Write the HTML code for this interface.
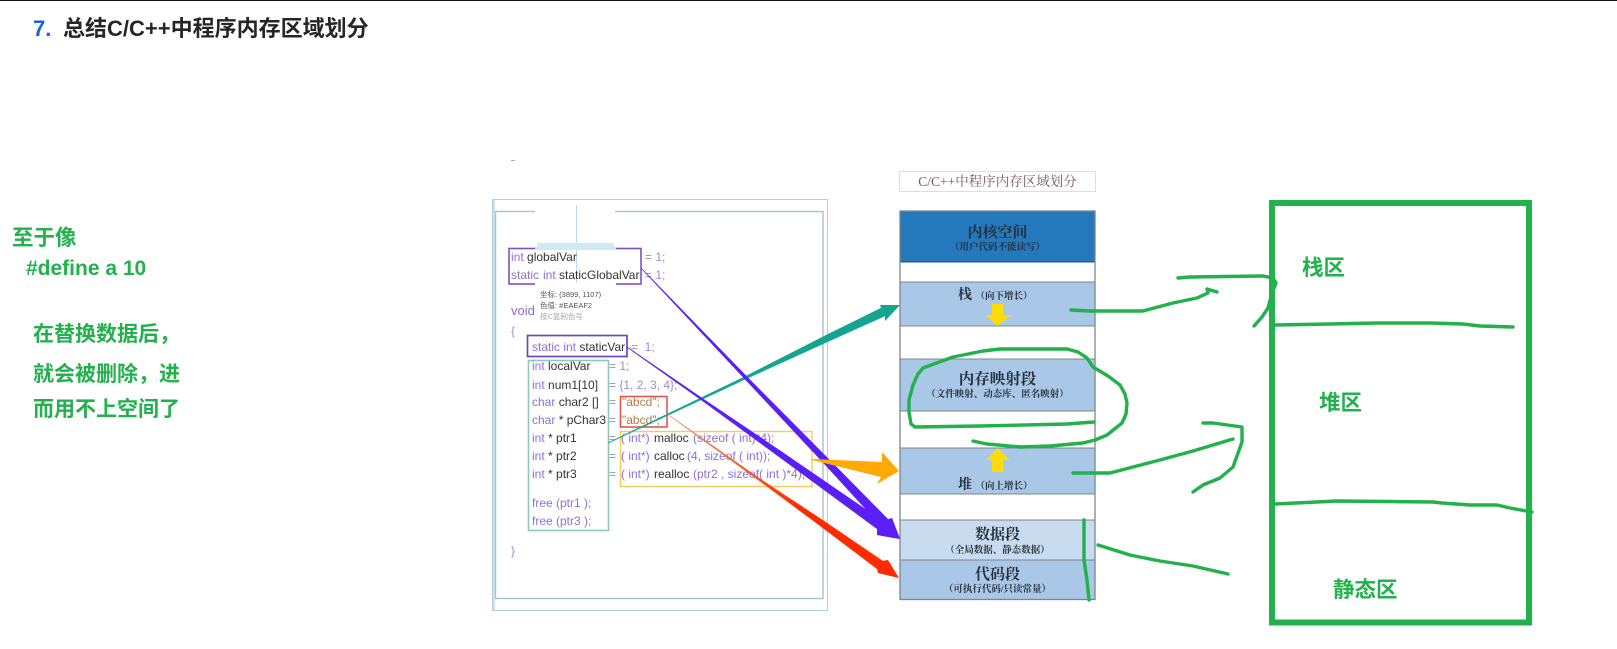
<!DOCTYPE html>
<html lang="zh">
<head>
<meta charset="utf-8">
<title>总结C/C++中程序内存区域划分</title>
<style>
html,body{margin:0;padding:0;background:#fff;width:1617px;height:649px;overflow:hidden}
svg{display:block;position:absolute;left:0;top:0}
text{white-space:pre}
.t{font-family:"Liberation Sans","Noto Sans CJK SC",sans-serif;font-weight:700}
.g{font-family:"Liberation Sans","Noto Sans CJK SC",sans-serif;font-weight:700;fill:#22b14c}
.c{font-family:"Liberation Sans","Noto Sans CJK SC",sans-serif;font-size:12px;fill:#8a70d8}
.c .d{fill:#333}
.c .m{fill:#9a8ccc}
.c .o{fill:#b5793f}
.s{font-family:"Liberation Serif","Noto Serif CJK SC",serif;font-weight:700;fill:#26303c;text-anchor:middle}
.sub{font-size:9.5px}
.scr{fill:none;stroke:#22b14c;stroke-linecap:round;stroke-linejoin:round;stroke-width:3.4}
.soft{filter:blur(.35px)}
</style>
</head>
<body>
<svg width="1617" height="649" viewBox="0 0 1617 649" xmlns="http://www.w3.org/2000/svg">
<defs>
<linearGradient id="rg" gradientUnits="userSpaceOnUse" x1="670" y1="416" x2="800" y2="508">
<stop offset="0" stop-color="#ea9a70"/><stop offset="1" stop-color="#ff2a00"/>
</linearGradient>
</defs>
<rect width="1617" height="649" fill="#fff"/>
<rect x="0" y="0" width="1617" height="1" fill="#111"/>

<!-- heading -->
<text class="t" x="33" y="36" font-size="22" fill="#1a5fe0">7.</text>
<text class="t" x="63" y="36" font-size="22" fill="#262626">总结C/C++中程序内存区域划分</text>

<!-- left note -->
<text class="g" x="12" y="245" font-size="21.5">至于像</text>
<text class="g" x="26" y="275" font-size="21">#define a 10</text>
<text class="g" x="33" y="341" font-size="21">在替换数据后，</text>
<text class="g" x="33" y="381" font-size="21">就会被删除，进</text>
<text class="g" x="33" y="416" font-size="21">而用不上空间了</text>

<g class="soft">
<!-- code frame -->
<rect x="511" y="160" width="4" height="1" fill="#aaa"/>
<rect x="492.5" y="199.5" width="335" height="411" fill="none" stroke="#b2cfdc" stroke-width="1"/>
<rect x="495.5" y="211.5" width="327.5" height="387" fill="#fff" stroke="#a4c2d0" stroke-width="1.4"/>
<rect x="493" y="200" width="2" height="410" fill="#cfe0e8"/>
<rect x="535" y="210" width="80" height="3" fill="#fff"/>
<rect x="576" y="205" width="1" height="78" fill="#b9dcec"/>
<rect x="537" y="243" width="77" height="4" fill="#cfe9f3"/>

<!-- code boxes -->
<rect x="509" y="248.5" width="132" height="35.5" fill="none" stroke="#7a52cf" stroke-width="1.6"/>
<rect x="535" y="247" width="81" height="3" fill="#cfe9f3"/>
<rect x="535" y="283" width="81" height="2" fill="#fff"/>
<rect x="527.5" y="335.5" width="99.5" height="21" fill="none" stroke="#6c45c8" stroke-width="1.7"/>
<rect x="528.5" y="360.5" width="80" height="170" fill="none" stroke="#8cc9b9" stroke-width="1.6"/>
<rect x="620.5" y="396.5" width="46.5" height="30.5" fill="none" stroke="#e4554a" stroke-width="1.6"/>
<rect x="620.5" y="431.5" width="191.5" height="55" fill="none" stroke="#fcc85c" stroke-width="1.4"/>

<!-- code -->
<text class="c" x="511" y="261">int <tspan class="d">globalVar</tspan><tspan class="m" x="645">= 1;</tspan></text>
<text class="c" x="511" y="279">static<tspan x="543">int</tspan><tspan class="d" x="559">staticGlobalVar</tspan><tspan class="m" x="645">= 1;</tspan></text>
<text x="540" y="297" font-size="7.5" fill="#555" font-family="'Liberation Sans','Noto Sans CJK SC',sans-serif">坐标: (3899, 1107)</text>
<text x="540" y="308" font-size="7.5" fill="#555" font-family="'Liberation Sans','Noto Sans CJK SC',sans-serif">色值: #EAEAF2</text>
<text x="540" y="319" font-size="7.5" fill="#aaa" font-family="'Liberation Sans','Noto Sans CJK SC',sans-serif">按C复制色号</text>
<text class="c" x="511" y="315" style="font-size:13px">void</text>
<text class="c" x="511" y="335"><tspan class="m">{</tspan></text>
<text class="c" x="532" y="351">static int <tspan class="d">staticVar</tspan><tspan class="m" x="631">=  1;</tspan></text>
<text class="c" x="532" y="370">int <tspan class="d">localVar</tspan><tspan class="m" x="609">= 1;</tspan></text>
<text class="c" x="532" y="389">int <tspan class="d">num1[10]</tspan><tspan class="m" x="609">= {1, 2, 3, 4};</tspan></text>
<text class="c" x="532" y="406">char <tspan class="d">char2 []</tspan><tspan class="m" x="609">=</tspan><tspan class="o" x="622">"abcd";</tspan></text>
<text class="c" x="532" y="424">char <tspan class="d">* pChar3</tspan><tspan class="m" x="609">=</tspan><tspan class="o" x="622">"abcd";</tspan></text>
<text class="c" x="532" y="442">int <tspan class="d">* ptr1</tspan><tspan class="m" x="609">=</tspan><tspan x="621">( int*)</tspan><tspan class="d" x="654">malloc</tspan><tspan x="693">(sizeof ( int)*4);</tspan></text>
<text class="c" x="532" y="460">int <tspan class="d">* ptr2</tspan><tspan class="m" x="609">=</tspan><tspan x="621">( int*)</tspan><tspan class="d" x="654">calloc</tspan><tspan x="687">(4, sizeof ( int));</tspan></text>
<text class="c" x="532" y="478">int <tspan class="d">* ptr3</tspan><tspan class="m" x="609">=</tspan><tspan x="621">( int*)</tspan><tspan class="d" x="654">realloc</tspan><tspan x="693">(ptr2 , sizeof( int )*4);</tspan></text>
<text class="c" x="532" y="507">free (ptr1 );</text>
<text class="c" x="532" y="525">free (ptr3 );</text>
<text class="c" x="511" y="555"><tspan class="m">}</tspan></text>

<!-- memory layout -->
<rect x="899.5" y="171.5" width="196" height="20" fill="#fff" stroke="#f2d5dc"/>
<text x="997.5" y="186" font-size="13.5" text-anchor="middle" fill="#7d5560" font-family="'Liberation Serif','Noto Serif CJK SC',serif">C/C++中程序内存区域划分</text>

<rect x="900" y="211" width="195" height="51" fill="#2479bd"/>
<rect x="900" y="262" width="195" height="20" fill="#fff"/>
<rect x="900" y="282" width="195" height="44" fill="#a9c7e6"/>
<rect x="900" y="326" width="195" height="33" fill="#fff"/>
<rect x="900" y="359" width="195" height="52" fill="#a9c7e6"/>
<rect x="900" y="411" width="195" height="37" fill="#fff"/>
<rect x="900" y="448" width="195" height="46" fill="#a9c7e6"/>
<rect x="900" y="494" width="195" height="26" fill="#fff"/>
<rect x="900" y="520" width="195" height="40" fill="#c9dcef"/>
<rect x="900" y="560" width="195" height="39" fill="#a9c7e6"/>
<g stroke="#7d858e" stroke-width="1">
<line x1="900" y1="262" x2="1095" y2="262" stroke="#1d4f7c"/>
<line x1="900" y1="282" x2="1095" y2="282"/>
<line x1="900" y1="326" x2="1095" y2="326"/>
<line x1="900" y1="359" x2="1095" y2="359"/>
<line x1="900" y1="411" x2="1095" y2="411"/>
<line x1="900" y1="448" x2="1095" y2="448"/>
<line x1="900" y1="494" x2="1095" y2="494"/>
<line x1="900" y1="520" x2="1095" y2="520"/>
<line x1="900" y1="560" x2="1095" y2="560"/>
</g>
<rect x="900" y="211" width="195" height="388.5" fill="none" stroke="#7d858e" stroke-width="1.3"/>

<text class="s" x="997.5" y="237" font-size="15">内核空间</text>
<text class="s sub" x="997.5" y="250">（用户代码不能读写）</text>
<text class="s" x="965" y="299" font-size="14">栈</text>
<text class="s sub" x="1004" y="299">（向下增长）</text>
<polygon points="992,304 1003,304 1003,315 1011,315 997.5,326 985,315 992,315" fill="#ffdb0a"/>
<text class="s" x="997.5" y="384" font-size="15.5">内存映射段</text>
<text class="s sub" x="997.5" y="397">（文件映射、动态库、匿名映射）</text>
<polygon points="997.5,448 1010,460 1003,460 1003,472 992,472 992,460 986,460" fill="#ffdb0a"/>
<text class="s" x="965" y="489" font-size="14">堆</text>
<text class="s sub" x="1004" y="489">（向上增长）</text>
<text class="s" x="997.5" y="539" font-size="15">数据段</text>
<text class="s sub" x="997.5" y="553">（全局数据、静态数据）</text>
<text class="s" x="997.5" y="579" font-size="15">代码段</text>
<text class="s sub" x="997.5" y="592">（可执行代码/只读常量）</text>

<!-- arrows -->
<polygon points="608,442.5 746.4,375.6 828.5,333.8 881,307.9 880,305 900,305 885,321 885,316.1 831.5,340.2 747.6,378.4 608,443.5" fill="#14a591"/>
<polygon points="627,346.5 703.7,399 781.7,451.5 882.9,520.9 892,518 900,539 877,535 877.1,529.1 778.3,456.5 702.3,401 627,347.5" fill="#5a1ff5"/>
<polygon points="641,267.5 748.3,377.8 829.5,459.6 888.6,519.6 892,518 900,539 877,535 881.4,526.5 824.5,464.4 745.7,380.2 641,268.5" fill="#5a1ff5"/>
<polygon points="812,459 882,462 882,452 899,471 877,484 881,477 812,460" fill="#ffa906"/>
<polygon points="670,415.5 760.7,479 821.8,519.4 882.9,560.9 888,560 899,578 878,573 877.1,569.1 818.2,524.6 759.3,481 670,416.5" fill="url(#rg)"/>
</g>

<!-- green frame -->
<rect x="1272" y="203" width="257" height="419.5" fill="none" stroke="#22b14c" stroke-width="6"/>
<polyline class="scr" points="1275,325 1330,324 1377,323 1430,323 1463,324 1480,326 1513,327"/>
<polyline class="scr" points="1275,504 1337,501 1433,502 1442,503 1470,505 1497,505 1510,508 1532,512"/>
<text class="g" x="1302" y="275" font-size="21.5">栈区</text>
<text class="g" x="1319" y="410" font-size="21.5">堆区</text>
<text class="g" x="1333" y="597" font-size="21.5">静态区</text>

<!-- green scribbles -->
<polyline class="scr" points="1071,310 1090,311 1143,311 1158,307 1173,303 1197,298 1208,293 1207,289 1217,292"/>
<polyline class="scr" points="1178,278 1190,277 1263,276 1273,278 1276,283 1272,293 1268,308 1262,317 1254,326"/>
<polyline class="scr" points="1094,422 1067,424 980,426 915,427 911,424 909,412 909,400 913,385 918,374 923,368 953,357 983,351 1000,349 1067,349 1078,352 1087,358 1093,367 1108,376 1120,385 1125,394 1127,403 1126,414 1122,423 1107,435 1095,440 1083,443 1050,446 1020,447 987,444 973,441"/>
<polyline class="scr" points="1073,473 1110,473 1160,460 1193,451 1233,439"/>
<polyline class="scr" points="1203,423 1213,423 1242,427 1242,442 1233,467 1220,478 1203,485 1193,492"/>
<polyline class="scr" points="1084,520 1084,560 1087,580 1089,600"/>
<polyline class="scr" points="1098,545 1130,555 1160,561 1193,566 1228,574"/>
</svg>
</body>
</html>
